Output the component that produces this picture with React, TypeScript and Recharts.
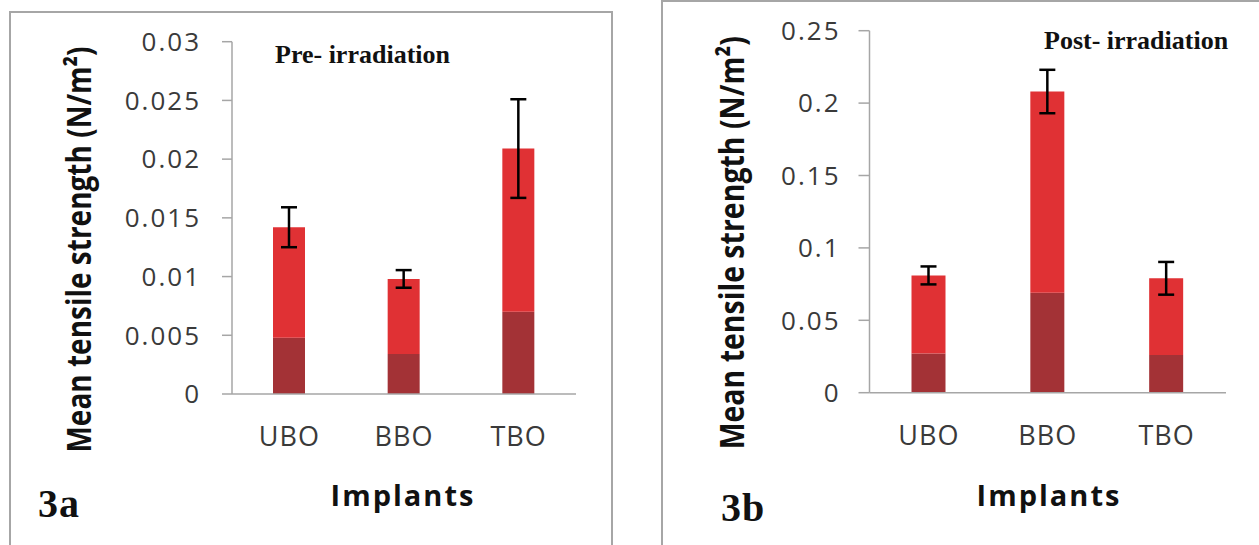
import { Bar, BarChart, ErrorBar, XAxis, YAxis } from "recharts";

const CATEGORIES = ["UBO", "BBO", "TBO"];

// Pre-irradiation (3a)
const PRE_MEAN = [0.0142, 0.0098, 0.0209];
const PRE_BASE = [0.0048, 0.0034, 0.007];
const PRE_ERR = [0.0017, 0.00075, 0.0042];
const PRE_TICKS = [0, 0.005, 0.01, 0.015, 0.02, 0.025, 0.03];
const PRE_TICK_LABELS = ["0", "0.005", "0.01", "0.015", "0.02", "0.025", "0.03"];

// Post-irradiation (3b)
const POST_MEAN = [0.081, 0.208, 0.079];
const POST_BASE = [0.027, 0.069, 0.026];
const POST_ERR = [0.0062, 0.015, 0.0113];
const POST_TICKS = [0, 0.05, 0.1, 0.15, 0.2, 0.25];
const POST_TICK_LABELS = ["0", "0.05", "0.1", "0.15", "0.2", "0.25"];

const RED = "#E03134";
const DARK_RED = "#A33236";
const AXIS_GRAY = "#A6A6A6";
const TEXT_GRAY = "#3a3a3a";
const SANS = "'Open Sans', sans-serif";
const SERIF = "'Liberation Serif', 'Times New Roman', serif";

function buildRows(mean: number[], base: number[], err: number[]) {
  return CATEGORIES.map((name, i) => ({
    name,
    base: base[i],
    upper: mean[i] - base[i],
    err: err[i],
  }));
}

type PanelProps = {
  left: number;
  width: number;
  margin: { top: number; right: number; bottom: number; left: number };
  rows: ReturnType<typeof buildRows>;
  ticks: number[];
  labels: string[];
  barSize: number;
  tickSize: number;
  tickMargin: number;
};

function Panel({ left, width, margin, rows, ticks, labels, barSize, tickSize, tickMargin }: PanelProps) {
  const domainMax = ticks[ticks.length - 1];
  return (
    <div style={{ position: "absolute", left, top: 0 }}>
      <BarChart width={width} height={545} data={rows} margin={margin}>
        <XAxis
          dataKey="name"
          height={60}
          axisLine={{ stroke: AXIS_GRAY, strokeWidth: 1.5 }}
          tickLine={false}
          tickSize={0}
          tickMargin={33}
          tick={{ fill: TEXT_GRAY, fontSize: 27, fontFamily: SANS, letterSpacing: 1 }}
        />
        <YAxis
          width={120}
          domain={[0, domainMax]}
          ticks={ticks}
          interval={0}
          axisLine={{ stroke: AXIS_GRAY, strokeWidth: 1.5 }}
          tickLine={{ stroke: AXIS_GRAY, strokeWidth: 1.5 }}
          tickSize={tickSize}
          tickMargin={tickMargin}
          tickFormatter={(v: number) => labels[ticks.indexOf(v)] ?? String(v)}
          tick={{ fill: TEXT_GRAY, fontSize: 26, fontFamily: SANS, letterSpacing: 2 }}
        />
        <Bar
          dataKey="base"
          stackId="a"
          fill={DARK_RED}
          barSize={barSize}
          isAnimationActive={false}
        />
        <Bar
          dataKey="upper"
          stackId="a"
          fill={RED}
          barSize={barSize}
          isAnimationActive={false}
        >
          <ErrorBar
            dataKey="err"
            direction="y"
            width={8}
            strokeWidth={2.5}
            stroke="#000"
            isAnimationActive={false}
          />
        </Bar>
      </BarChart>
    </div>
  );
}

export default function App() {
  const preRows = buildRows(PRE_MEAN, PRE_BASE, PRE_ERR);
  const postRows = buildRows(POST_MEAN, POST_BASE, POST_ERR);

  return (
    <div
      style={{
        position: "absolute",
        left: 0,
        top: 0,
        width: 1259,
        height: 545,
        overflow: "hidden",
        background: "#fff",
      }}
    >
      <div
        style={{
          position: "absolute",
          left: 9,
          top: 11,
          width: 604,
          height: 600,
          boxSizing: "border-box",
          border: `2.5px solid ${AXIS_GRAY}`,
        }}
      />
      <div
        style={{
          position: "absolute",
          left: 661,
          top: 0,
          width: 700,
          height: 600,
          boxSizing: "border-box",
          border: `2.5px solid ${AXIS_GRAY}`,
        }}
      />

      <Panel
        left={0}
        width={640}
        margin={{ top: 41.7, right: 64, bottom: 91, left: 112 }}
        rows={preRows}
        ticks={PRE_TICKS}
        labels={PRE_TICK_LABELS}
        barSize={32}
        tickSize={10}
        tickMargin={21}
      />
      <Panel
        left={640}
        width={619}
        margin={{ top: 30.7, right: 33, bottom: 92.3, left: 109.5 }}
        rows={postRows}
        ticks={POST_TICKS}
        labels={POST_TICK_LABELS}
        barSize={34}
        tickSize={11}
        tickMargin={18}
      />

      <svg
        width={1259}
        height={545}
        style={{ position: "absolute", left: 0, top: 0, pointerEvents: "none" }}
      >
        <text x={275} y={63} fontFamily={SERIF} fontWeight="bold" fontSize={26} fill="#111">
          Pre- irradiation
        </text>
        <text x={1044} y={49} fontFamily={SERIF} fontWeight="bold" fontSize={26} fill="#111">
          Post- irradiation
        </text>

        <text
          transform="translate(91,249.5) rotate(-90) scale(1,1.18)"
          textAnchor="middle"
          fontFamily={SANS}
          fontWeight="bold"
          fontSize={28}
          fill="#111"
        >
          Mean tensile strength (N/m²)
        </text>
        <text
          transform="translate(744,242.7) rotate(-90) scale(1,1.18)"
          textAnchor="middle"
          fontFamily={SANS}
          fontWeight="bold"
          fontSize={28.5}
          fill="#111"
        >
          Mean tensile strength (N/m²)
        </text>

        <text x={403} y={506} textAnchor="middle" fontFamily={SANS} fontWeight="bold" fontSize={29} letterSpacing={2} fill="#111">
          Implants
        </text>
        <text x={1049} y={506} textAnchor="middle" fontFamily={SANS} fontWeight="bold" fontSize={29} letterSpacing={2} fill="#111">
          Implants
        </text>

        <text x={38} y={517} fontFamily={SERIF} fontWeight="bold" fontSize={40} letterSpacing={1} fill="#111">
          3a
        </text>
        <text x={721} y={521} fontFamily={SERIF} fontWeight="bold" fontSize={40} letterSpacing={1} fill="#111">
          3b
        </text>
      </svg>
    </div>
  );
}
